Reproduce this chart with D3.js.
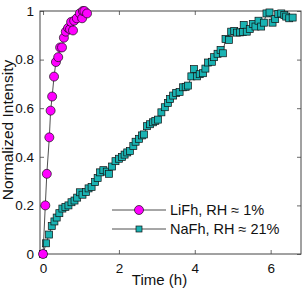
<!DOCTYPE html>
<html>
<head>
<meta charset="utf-8">
<script src="https://cdn.jsdelivr.net/npm/d3@7"></script>
<style>
  body { margin: 0; background: #fff; }
  svg text { font-family: "Liberation Sans", Arial, sans-serif; }
</style>
</head>
<body>
<div id="chart"></div>
<script>
// LiFh, RH ~ 1%
const liTime = [0, 0.06, 0.1, 0.166, 0.2, 0.24, 0.29, 0.34, 0.4, 0.45, 0.5, 0.55, 0.6, 0.66, 0.71, 0.74, 0.79, 0.82, 0.89, 0.97, 1.03, 1.05, 1.09, 1.16];
const liValue = [0, 0.2, 0.33, 0.48, 0.59, 0.648, 0.73, 0.79, 0.81, 0.85, 0.85, 0.89, 0.915, 0.93, 0.925, 0.955, 0.92, 0.96, 0.97, 0.99, 0.97, 1.0, 1.0, 0.99];

// NaFh, RH ~ 21%
const naTime = [0, 0.08, 0.16, 0.23, 0.3, 0.36, 0.43, 0.51, 0.59, 0.67, 0.75, 0.83, 0.9, 0.97, 1.04, 1.13, 1.2, 1.28, 1.37, 1.44, 1.5, 1.59, 1.68, 1.74, 1.82, 1.91, 2.0, 2.08, 2.15, 2.22, 2.29, 2.38, 2.44, 2.53, 2.61, 2.66, 2.74, 2.82, 2.9, 2.96, 3.03, 3.12, 3.21, 3.29, 3.35, 3.43, 3.51, 3.6, 3.69, 3.76, 3.82, 3.91, 3.98, 4.06, 4.13, 4.22, 4.28, 4.35, 4.45, 4.51, 4.6, 4.68, 4.74, 4.81, 4.9, 4.96, 5.04, 5.11, 5.19, 5.27, 5.29, 5.37, 5.45, 5.53, 5.6, 5.68, 5.75, 5.82, 5.89, 5.97, 6.05, 6.12, 6.2, 6.28, 6.36, 6.41, 6.49, 6.58];
const naValue = [0, 0.044, 0.08, 0.115, 0.134, 0.15, 0.168, 0.187, 0.194, 0.2, 0.213, 0.22, 0.232, 0.254, 0.244, 0.255, 0.27, 0.276, 0.296, 0.313, 0.336, 0.345, 0.339, 0.33, 0.36, 0.382, 0.392, 0.399, 0.409, 0.418, 0.424, 0.444, 0.462, 0.474, 0.488, 0.492, 0.526, 0.534, 0.542, 0.548, 0.553, 0.583, 0.604, 0.622, 0.638, 0.652, 0.663, 0.667, 0.686, 0.688, 0.693, 0.731, 0.761, 0.731, 0.74, 0.744, 0.763, 0.788, 0.791, 0.81, 0.824, 0.84, 0.826, 0.885, 0.881, 0.915, 0.918, 0.911, 0.912, 0.914, 0.943, 0.915, 0.926, 0.947, 0.936, 0.96, 0.936, 0.952, 0.99, 0.994, 0.952, 0.967, 0.988, 0.99, 0.984, 0.977, 0.97, 0.973];

const xTicks = [0, 2, 4, 6];
const yTicks = [0, 0.2, 0.4, 0.6, 0.8, 1];
const legendLabels = ["LiFh, RH \u2248 1%", "NaFh, RH \u2248 21%"];

const width = 306;
const height = 289;
const margin = { left: 40, right: 5, top: 11, bottom: 35 };
const magenta = "#ff00ff";
const teal = "#1ab3b3";

const svg = d3.select("#chart")
  .append("svg")
  .attr("width", width)
  .attr("height", height);

const xScale = d3.scaleLinear()
  .domain([-0.08, 6.8])
  .range([margin.left, width - margin.right]);
const yScale = d3.scaleLinear()
  .domain([0, 1])
  .range([height - margin.bottom, margin.top]);

const x0 = margin.left, x1 = width - margin.right;
const y0 = height - margin.bottom, y1 = margin.top;

// inward ticks on all four sides
const tickLen = 4;
const axisStyle = (g) => {
  g.select(".domain").remove();
  g.selectAll("line").attr("stroke", "#444").attr("stroke-width", 0.8);
  g.selectAll("text").attr("font-size", 13.5).attr("fill", "#111");
};

svg.append("g")
  .attr("transform", `translate(0, ${y0})`)
  .call(d3.axisBottom(xScale).tickValues(xTicks).tickSize(-tickLen).tickPadding(9).tickFormat(d3.format("d")))
  .call(axisStyle);
svg.append("g")
  .attr("transform", `translate(0, ${y1})`)
  .call(d3.axisTop(xScale).tickValues(xTicks).tickSize(-tickLen).tickFormat(""))
  .call(axisStyle);
svg.append("g")
  .attr("transform", `translate(${x0}, 0)`)
  .call(d3.axisLeft(yScale).tickValues(yTicks).tickSize(-tickLen).tickPadding(6).tickFormat((d) => (d === 0 || d === 1 ? d : d3.format(".1f")(d))))
  .call(axisStyle);
svg.append("g")
  .attr("transform", `translate(${x1}, 0)`)
  .call(d3.axisRight(yScale).tickValues(yTicks).tickSize(-tickLen).tickFormat(""))
  .call(axisStyle);

svg.append("rect")
  .attr("x", x0).attr("y", y1)
  .attr("width", x1 - x0).attr("height", y0 - y1)
  .attr("fill", "none").attr("stroke", "#444").attr("stroke-width", 1);

const line = d3.line()
  .x((d) => xScale(d[0]))
  .y((d) => yScale(d[1]));

const naData = naTime.map((t, i) => [t, naValue[i]]);
const liData = liTime.map((t, i) => [t, liValue[i]]);

// NaFh
svg.append("path")
  .attr("d", line(naData))
  .attr("fill", "none").attr("stroke", "#222").attr("stroke-width", 0.8);
const sq = 7;
svg.append("g").selectAll("rect")
  .data(naData)
  .join("rect")
  .attr("x", (d) => xScale(d[0]) - sq / 2)
  .attr("y", (d) => yScale(d[1]) - sq / 2)
  .attr("width", sq).attr("height", sq)
  .attr("fill", teal).attr("stroke", "#111").attr("stroke-width", 0.7);

// LiFh
svg.append("path")
  .attr("d", line(liData))
  .attr("fill", "none").attr("stroke", "#222").attr("stroke-width", 0.8);
svg.append("g").selectAll("circle")
  .data(liData)
  .join("circle")
  .attr("cx", (d) => xScale(d[0]))
  .attr("cy", (d) => yScale(d[1]))
  .attr("r", 4.5)
  .attr("fill", magenta).attr("stroke", "#111").attr("stroke-width", 0.7);

// axis labels
svg.append("text")
  .attr("x", 159.5).attr("y", 285)
  .attr("text-anchor", "middle")
  .attr("font-size", 15).attr("fill", "#111")
  .text("Time (h)");
svg.append("text")
  .attr("transform", `translate(12.5, 130) rotate(-90)`)
  .attr("text-anchor", "middle")
  .attr("font-size", 15.5).attr("fill", "#111")
  .text("Normalized Intensity");

// legend
const legend = svg.append("g");
legendLabels.forEach((label, i) => {
  const ly = 210 + i * 19;
  legend.append("line")
    .attr("x1", 112).attr("x2", 166).attr("y1", ly).attr("y2", ly)
    .attr("stroke", "#222").attr("stroke-width", 0.8);
  if (i === 0) {
    legend.append("circle").attr("cx", 139).attr("cy", ly).attr("r", 4.5)
      .attr("fill", magenta).attr("stroke", "#111").attr("stroke-width", 0.7);
  } else {
    legend.append("rect").attr("x", 139 - 3).attr("y", ly - 3).attr("width", 6).attr("height", 6)
      .attr("fill", teal).attr("stroke", "#111").attr("stroke-width", 0.7);
  }
  legend.append("text")
    .attr("x", 170).attr("y", ly + 5)
    .attr("font-size", 14.5).attr("fill", "#111")
    .text(label);
});
</script>
</body>
</html>
